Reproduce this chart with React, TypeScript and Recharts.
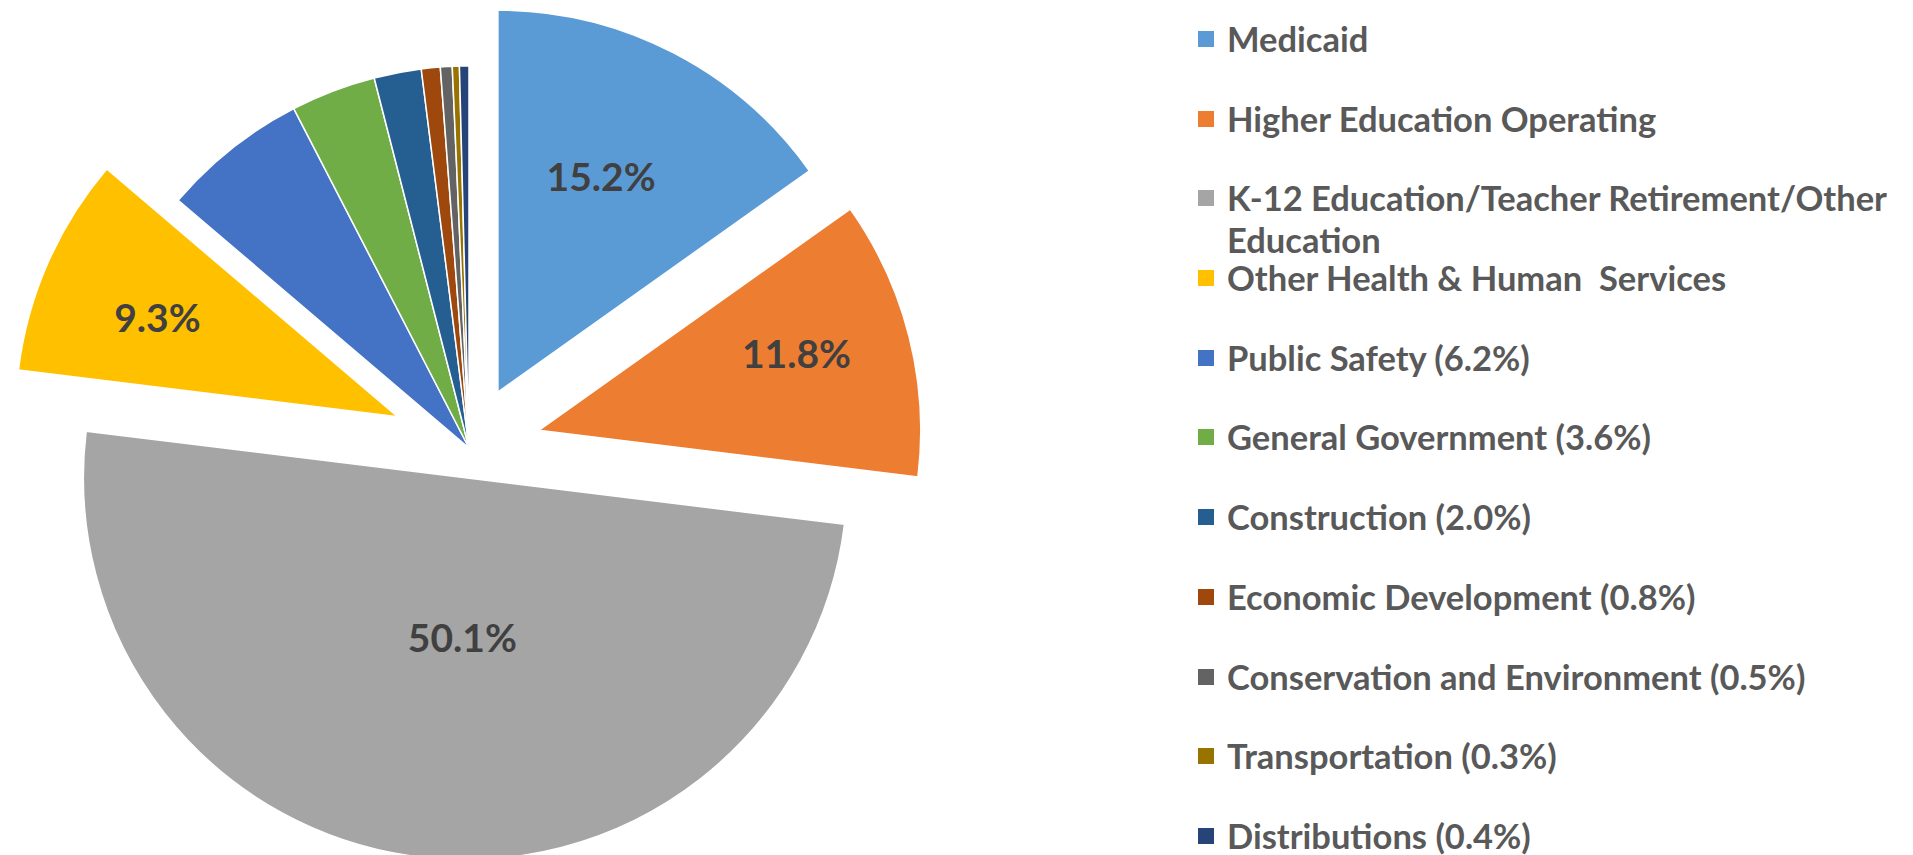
import { Cell, Legend, Pie, PieChart, Sector } from "recharts";

const CATEGORIES = [
  "Medicaid",
  "Higher Education Operating",
  "K-12 Education/Teacher Retirement/Other Education",
  "Other Health & Human  Services",
  "Public Safety (6.2%)",
  "General Government (3.6%)",
  "Construction (2.0%)",
  "Economic Development (0.8%)",
  "Conservation and Environment (0.5%)",
  "Transportation (0.3%)",
  "Distributions (0.4%)",
];
const SHARES = [15.2, 11.8, 50.1, 9.3, 6.2, 3.6, 2.0, 0.8, 0.5, 0.3, 0.4];
const LABELLED = [true, true, true, true, false, false, false, false, false, false, false];

const COLORS = [
  "#5B9BD5",
  "#ED7D31",
  "#A5A5A5",
  "#FFC000",
  "#4472C4",
  "#70AD47",
  "#255E91",
  "#9E480E",
  "#636363",
  "#997300",
  "#264478",
];

// how far each slice is pulled out, and where its % label sits (radius fraction, clockwise turn in deg)
const EXPLODE = [63, 72, 30, 78, 0, 0, 0, 0, 0, 0, 0];
const LABEL_AT = [0.61, 0.699, 0.436, 0.674];
const LABEL_TURN = [-1, -1, -6, -2.6];

const FONT = "Lato, 'Open Sans', sans-serif";
const RAD = Math.PI / 180;

const data = CATEGORIES.map((name, i) => ({ name, value: SHARES[i] }));

const slot = (p: any) =>
  typeof p.index === "number" ? p.index : CATEGORIES.indexOf(p.name ?? p.payload?.name);

function ExplodedSlice(props: any) {
  const i = slot(props);
  const d = EXPLODE[i] ?? 0;
  const a = -props.midAngle * RAD;
  return (
    <Sector
      {...props}
      cx={props.cx + d * Math.cos(a)}
      cy={props.cy + d * Math.sin(a)}
      fill={COLORS[i] ?? props.fill}
      stroke="#fff"
      strokeWidth={1.5}
    />
  );
}

function SliceLabel(props: any) {
  const i = slot(props);
  if (!LABELLED[i]) return null;
  const a = -props.midAngle * RAD;
  const d = EXPLODE[i] ?? 0;
  const ox = props.cx + d * Math.cos(a);
  const oy = props.cy + d * Math.sin(a);
  const b = -(props.midAngle - LABEL_TURN[i]) * RAD;
  const r = props.outerRadius * LABEL_AT[i];
  return (
    <text
      x={ox + r * Math.cos(b)}
      y={oy + r * Math.sin(b) + 8}
      textAnchor="middle"
      fill="#404040"
      fontFamily={FONT}
      fontWeight={700}
      fontSize={39}
    >
      {`${SHARES[i].toFixed(1)}%`}
    </text>
  );
}

function LegendList() {
  return (
    <div style={{ width: 700, fontFamily: FONT }}>
      {CATEGORIES.map((name, i) => (
        <div key={name} style={{ height: 79.7, display: "flex", alignItems: "flex-start" }}>
          <span
            style={{
              width: 16,
              height: 16,
              marginTop: 13,
              flex: "none",
              background: COLORS[i],
            }}
          />
          <span
            style={{
              marginLeft: 13,
              width: 670,
              lineHeight: "42px",
              fontSize: 34.5,
              fontWeight: 700,
              color: "#595959",
              whiteSpace: "pre-wrap",
            }}
          >
            {name}
          </span>
        </div>
      ))}
    </div>
  );
}

export default function App() {
  return (
    <div style={{ position: "absolute", left: 0, top: 0, background: "#fff" }}>
      <PieChart width={1913} height={855}>
        <Pie
          data={data}
          dataKey="value"
          nameKey="name"
          cx={464}
          cy={443}
          outerRadius={382}
          startAngle={90}
          endAngle={-270}
          shape={ExplodedSlice}
          label={SliceLabel}
          labelLine={false}
          isAnimationActive={false}
        >
          {data.map((d, i) => (
            <Cell key={d.name} fill={COLORS[i]} stroke="#fff" />
          ))}
        </Pie>
        <Legend
          layout="vertical"
          align="right"
          verticalAlign="top"
          content={LegendList}
          wrapperStyle={{ left: 1198, top: 18, width: 715 }}
        />
      </PieChart>
    </div>
  );
}
